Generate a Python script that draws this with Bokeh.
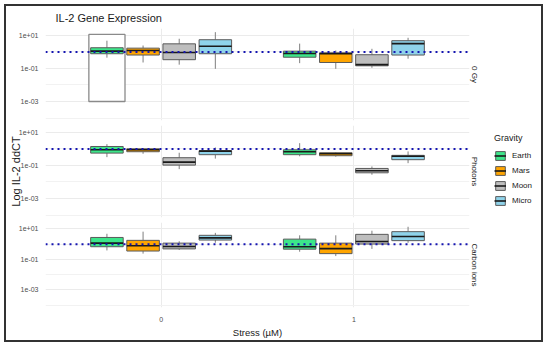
from bokeh.plotting import figure
from bokeh.layouts import column, row
from bokeh.models import (Range1d, FixedTicker, Span, Legend, LegendItem, Title,
                          ColumnDataSource)
from bokeh.embed import file_html
from bokeh.resources import INLINE

stress = ["0", "1"]
gravity = ["Earth", "Mars", "Moon", "Micro"]
facets = ["0 Gy", "Photons", "Carbon ions"]
colors = ["#3ce68a", "#ffa500", "#bebebe", "#8fd3ea"]

# order in every list: stress 0 (Earth, Mars, Moon, Micro), stress 1 (Earth, Mars, Moon, Micro)
gy_lo = [0.45, 0.23, 0.17, 0.095, 0.21, 0.095, 0.11, 0.39]
gy_q1 = [0.78, 0.65, 0.34, 0.78, 0.48, 0.23, 0.145, 0.65]
gy_med = [1.12, 1.23, 0.93, 2.2, 0.81, 0.78, 0.17, 3.2]
gy_q3 = [1.8, 1.7, 3.1, 5.5, 1.12, 0.89, 0.68, 4.8]
gy_hi = [4.8, 2.45, 6.3, 15.8, 3.2, 1.23, 1.55, 7.2]

ph_lo = [0.32, 0.51, 0.06, 0.26, 0.36, 0.34, 0.0275, 0.138]
ph_q1 = [0.56, 0.68, 0.105, 0.45, 0.45, 0.39, 0.036, 0.224]
ph_med = [0.89, 0.89, 0.16, 0.74, 0.68, 0.51, 0.048, 0.36]
ph_q3 = [1.41, 1.02, 0.295, 0.78, 0.89, 0.59, 0.066, 0.41]
ph_hi = [1.95, 1.12, 0.59, 1.23, 2.24, 0.65, 0.087, 0.71]

ci_lo = [0.39, 0.24, 0.42, 1.23, 0.32, 0.166, 0.49, 1.23]
ci_q1 = [0.68, 0.355, 0.49, 1.86, 0.47, 0.24, 1.02, 1.7]
ci_med = [1.17, 0.78, 0.71, 2.57, 0.68, 0.51, 1.48, 3.2]
ci_q3 = [2.75, 1.78, 1.17, 3.8, 2.14, 1.17, 4.4, 6.6]
ci_hi = [4.8, 6.6, 1.55, 5.5, 3.8, 3.8, 7.6, 13.8]

# outlined white box in the 0 Gy panel (stress 0, Earth slot)
frame_box_bottom = 0.001
frame_box_top = 11.5

stats = [
    (gy_lo, gy_q1, gy_med, gy_q3, gy_hi),
    (ph_lo, ph_q1, ph_med, ph_q3, ph_hi),
    (ci_lo, ci_q1, ci_med, ci_q3, ci_hi),
]

FONT = "Liberation Sans"
slot = 0.75 / len(gravity)
box_w = slot * 0.9
x_range = Range1d(-0.6, 1.6)

FW, FH = 424, 92
LEFT, RIGHT = 39, 13
borders = [(22, 2), (3, 2), (3, 26)]
figs = []
for fi, facet in enumerate(facets):
    top_b, bot_b = borders[fi]
    p = figure(width=LEFT + FW + RIGHT, height=top_b + FH + bot_b, x_range=x_range,
               y_range=Range1d(10 ** -4.15, 10 ** 1.42), y_axis_type="log",
               output_backend="svg", toolbar_location=None,
               min_border_left=LEFT, min_border_right=RIGHT,
               min_border_top=top_b, min_border_bottom=bot_b)
    p.outline_line_color = None
    p.background_fill_color = "white"

    p.yaxis.ticker = FixedTicker(ticks=[1e-3, 1e-1, 1e1], minor_ticks=[1e-4, 1e-2, 1.0])
    p.yaxis.major_label_overrides = {1e-3: "1e-03", 1e-1: "1e-01", 1e1: "1e+01"}
    p.xaxis.ticker = FixedTicker(ticks=[0, 1], minor_ticks=[])
    p.xaxis.major_label_overrides = {0: stress[0], 1: stress[1]}
    for ax in (p.xaxis, p.yaxis):
        ax.axis_line_color = None
        ax.major_tick_line_color = None
        ax.minor_tick_line_color = None
        ax.major_tick_out = 0
        ax.major_tick_in = 0
        ax.minor_tick_out = 0
        ax.minor_tick_in = 0
        ax.major_label_text_font_size = "7px"
        ax.major_label_text_color = "#4d4d4d"
        ax.major_label_text_font = FONT
        ax.axis_label_text_font = FONT
        ax.axis_label_text_font_style = "normal"
        ax.axis_label_text_color = "#1a1a1a"
    p.yaxis.major_label_standoff = 7
    p.xgrid.grid_line_color = "#ebebeb"
    p.ygrid.grid_line_color = "#ebebeb"
    p.ygrid.minor_grid_line_color = "#f2f2f2"

    if fi < 2:
        p.xaxis.visible = False
    else:
        p.xaxis.axis_label = "Stress (µM)"
        p.xaxis.axis_label_text_font_size = "9.5px"
        p.xaxis.major_label_standoff = 9
        p.xaxis.axis_label_standoff = 2
    if fi == 1:
        p.yaxis.axis_label = "Log IL-2 ddCT"
        p.yaxis.axis_label_text_font_size = "11px"
        p.yaxis.axis_label_standoff = -6

    if fi == 0:
        p.title.text = "IL-2 Gene Expression"
        p.title.text_font = FONT
        p.title.text_font_style = "normal"
        p.title.text_font_size = "11px"
        p.title.text_color = "#1a1a1a"
        p.title.align = "left"
        p.title.vertical_align = "top"
        p.title.standoff = 6
        p.title.offset = 10
        p.quad(left=[0 + (0 - 1.5) * slot - slot / 2], right=[0 + (0 - 1.5) * slot + slot / 2],
               bottom=[frame_box_bottom], top=[frame_box_top],
               fill_color="white", line_color="#8a8a8a", line_width=1.3)

    lo, q1, med, q3, hi = stats[fi]
    for gi, g in enumerate(gravity):
        idx = [si * len(gravity) + gi for si in range(len(stress))]
        xs = [si + (gi - 1.5) * slot for si in range(len(stress))]
        src = ColumnDataSource(dict(
            x=xs, x0=[x - box_w / 2 for x in xs], x1=[x + box_w / 2 for x in xs],
            lo=[lo[i] for i in idx], q1=[q1[i] for i in idx], med=[med[i] for i in idx],
            q3=[q3[i] for i in idx], hi=[hi[i] for i in idx]))
        p.segment(x0="x", x1="x", y0="q3", y1="hi", source=src, line_color="#7f7f7f", line_width=1)
        p.segment(x0="x", x1="x", y0="q1", y1="lo", source=src, line_color="#7f7f7f", line_width=1)
        p.vbar(x="x", width=box_w, bottom="q1", top="q3", source=src,
               fill_color=colors[gi], line_color="#5a5a5a", line_width=1)
        p.segment(x0="x0", x1="x1", y0="med", y1="med", source=src,
                  line_color="#1a1a1a", line_width=1.6)

    p.add_layout(Span(location=1, dimension="width", line_color="#1515b0",
                      line_dash="2 4", line_width=2))

    p.add_layout(Title(text=facet, align="center", text_font=FONT, text_font_style="normal",
                       text_font_size="8px", text_color="#1a1a1a", standoff=1), "right")
    figs.append(p)

# legend lives in its own small figure to the right of the panels; its key
# renderers are zero-size glyphs (only their styles are used by the legend)
LEG_W = 59
total_h = sum(b[0] + FH + b[1] for b in borders)
lf = figure(width=LEG_W, height=total_h, x_range=Range1d(0, 1), y_range=Range1d(0, 1),
            output_backend="svg", toolbar_location=None,
            min_border_left=0, min_border_right=0, min_border_top=0, min_border_bottom=0)
lf.axis.visible = False
lf.grid.visible = False
lf.outline_line_color = None
items = []
for gi, g in enumerate(gravity):
    src = ColumnDataSource(dict(x=[0.5], b=[0.5], t=[0.5], x0=[0.5], x1=[0.5], m=[0.5]))
    vb = lf.vbar(x="x", width=0, bottom="b", top="t", source=src,
                 fill_color=colors[gi], line_color="#5a5a5a", line_width=1)
    md = lf.segment(x0="x0", x1="x1", y0="m", y1="m", source=src,
                    line_color="#1a1a1a", line_width=1.6, line_cap="butt")
    items.append(LegendItem(label=g, renderers=[vb, md]))
leg = Legend(items=items, title="Gravity", location=(12, 134))
leg.title_text_font = FONT
leg.title_text_font_style = "normal"
leg.title_text_font_size = "9px"
leg.title_text_color = "#1a1a1a"
leg.title_standoff = 7
leg.label_text_font = FONT
leg.label_text_font_size = "8px"
leg.label_text_color = "#1a1a1a"
leg.label_standoff = 6
leg.glyph_width = 12
leg.glyph_height = 11
leg.label_height = 11
leg.spacing = 4
leg.padding = 4
leg.margin = 0
leg.border_line_color = None
leg.background_fill_color = None
lf.add_layout(leg)

layout = row(column(*figs), lf, styles={"border": "2px solid #333333", "margin-left": "4px",
                                        "margin-top": "4px"})
open("out.html", "w").write(file_html(layout, INLINE))
